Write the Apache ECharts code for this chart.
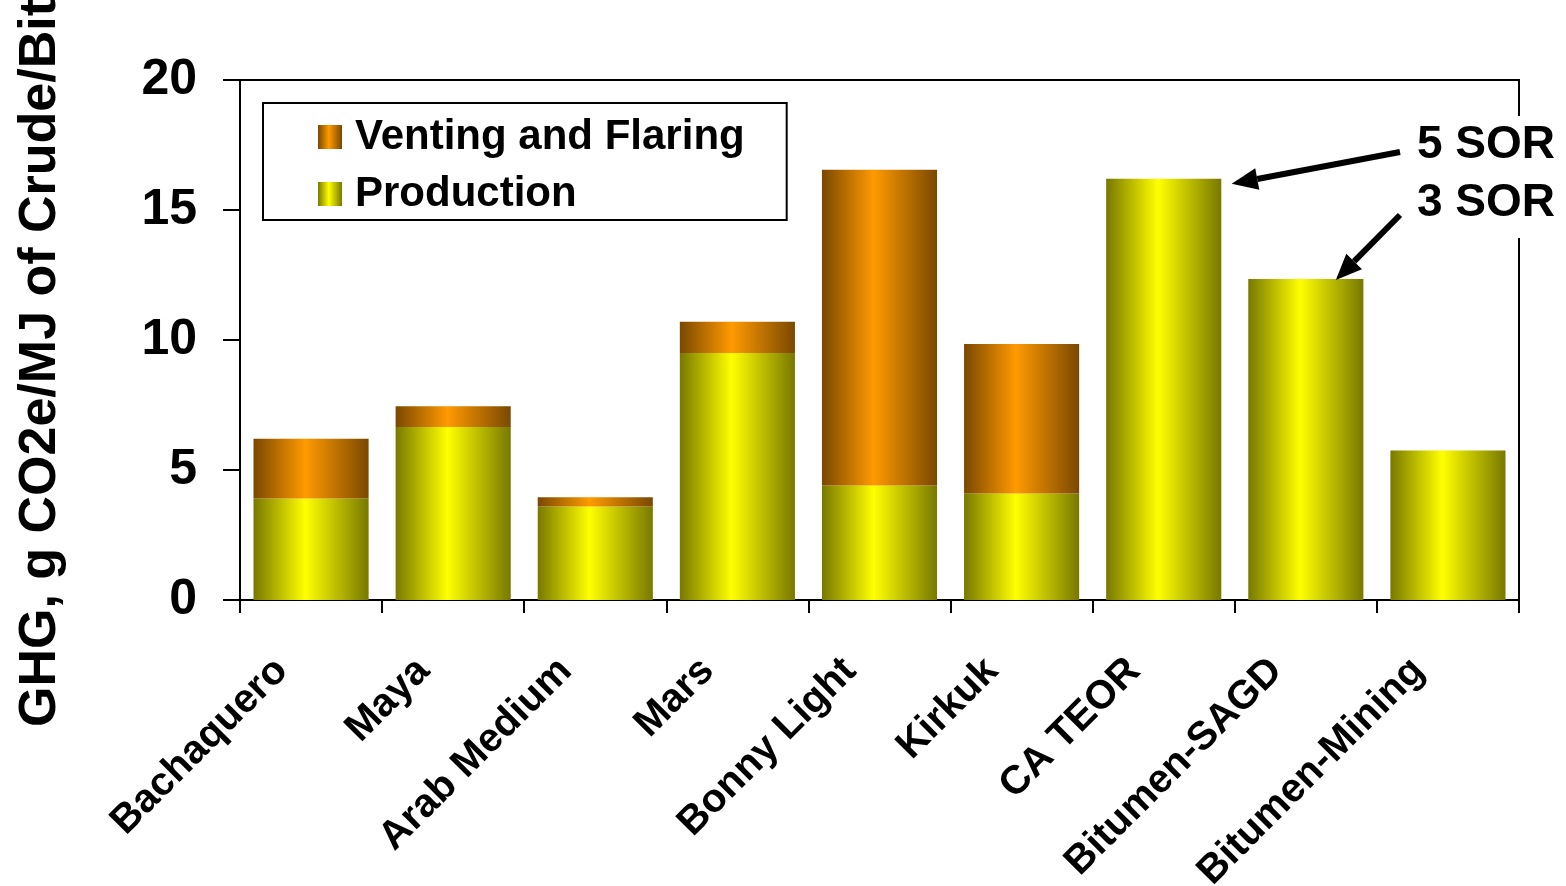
<!DOCTYPE html>
<html>
<head>
<meta charset="utf-8">
<title>GHG emissions by crude</title>
<script src="https://cdn.jsdelivr.net/npm/echarts@6/dist/echarts.min.js"></script>
<style>
  html, body { margin: 0; padding: 0; background: #fff; }
  #chart { width: 1566px; height: 886px; }
</style>
</head>
<body>
<div id="chart"></div>
<script>
// data
const categories = ['Bachaquero', 'Maya', 'Arab Medium', 'Mars', 'Bonny Light',
  'Kirkuk', 'CA TEOR', 'Bitumen-SAGD', 'Bitumen-Mining'];
const production = [3.9, 6.65, 3.6, 9.5, 4.4, 4.1, 16.2, 12.35, 5.75];
const venting = [2.3, 0.8, 0.35, 1.2, 12.15, 5.75, 0, 0, 0];
const yTicks = [0, 5, 10, 15, 20];
const seriesNames = ['Venting and Flaring', 'Production'];
const yTitle = 'GHG, g CO2e/MJ of Crude/Bit';
const notes = ['5 SOR', '3 SOR'];
const noteTargets = [6, 7]; // CA TEOR, Bitumen-SAGD

const FONT = "'Liberation Sans', Arial, Helvetica, sans-serif";
const chart = echarts.init(document.getElementById('chart'));

// cylinder-ish horizontal shading like the original
function barFill(edge, mid) {
  return new echarts.graphic.LinearGradient(0, 0, 1, 0, [
    { offset: 0, color: edge },
    { offset: 0.45, color: mid },
    { offset: 1, color: edge }
  ]);
}

chart.setOption({
  backgroundColor: '#fff',
  animation: false,
  grid: {
    left: 240, right: 47, top: 80, bottom: 286,
    outerBoundsMode: 'none',
    show: true,
    borderColor: '#000',
    borderWidth: 2
  },
  legend: {
    data: seriesNames,
    orient: 'vertical',
    left: 263,
    top: 103,
    padding: [13, 42, 5, 55],
    itemGap: 15,
    itemWidth: 24,
    itemHeight: 24,
    icon: 'rect',
    borderColor: '#000',
    borderWidth: 2,
    backgroundColor: '#fff',
    textStyle: {
      fontFamily: FONT, fontSize: 42, fontWeight: 'bold', color: '#000',
      padding: [0, 0, 0, 8]
    }
  },
  xAxis: {
    type: 'category',
    data: categories,
    axisLine: { lineStyle: { color: '#000', width: 2 } },
    axisTick: { show: true, length: 13, lineStyle: { color: '#000', width: 2 } },
    axisLabel: {
      interval: 0,
      rotate: 45,
      margin: 35,
      padding: [0, 42, 0, 0],
      color: '#000',
      fontFamily: FONT,
      fontSize: 40,
      fontWeight: 'bold'
    },
    splitLine: { show: false }
  },
  yAxis: {
    type: 'value',
    min: yTicks[0],
    max: yTicks[yTicks.length - 1],
    interval: 5,
    axisLine: { show: true, lineStyle: { color: '#000', width: 2 } },
    axisTick: { show: true, length: 17, lineStyle: { color: '#000', width: 2 } },
    axisLabel: {
      margin: 43,
      color: '#000',
      fontFamily: FONT,
      fontSize: 50,
      fontWeight: 'bold'
    },
    splitLine: { show: false }
  },
  series: [
    {
      name: 'Production',
      type: 'bar',
      stack: 'ghg',
      barWidth: '81%',
      data: production,
      itemStyle: { color: barFill('#787800', '#ffff00') }
    },
    {
      name: 'Venting and Flaring',
      type: 'bar',
      stack: 'ghg',
      barWidth: '81%',
      data: venting,
      itemStyle: { color: barFill('#7a4800', '#ff9a00') }
    }
  ]
});

// arrow made of a thick line and a filled head
function arrow(x1, y1, x2, y2) {
  const ang = Math.atan2(y2 - y1, x2 - x1);
  const len = 26, half = 11;
  const bx = x2 - len * Math.cos(ang), by = y2 - len * Math.sin(ang);
  const nx = -Math.sin(ang), ny = Math.cos(ang);
  return [
    { type: 'line', z: 100, shape: { x1: x1, y1: y1, x2: bx, y2: by },
      style: { stroke: '#000', lineWidth: 6 } },
    { type: 'polygon', z: 100,
      shape: { points: [[x2, y2], [bx + nx * half, by + ny * half], [bx - nx * half, by - ny * half]] },
      style: { fill: '#000' } }
  ];
}

const tip1 = chart.convertToPixel({ gridIndex: 0 }, [noteTargets[0], production[6]]);
const tip2 = chart.convertToPixel({ gridIndex: 0 }, [noteTargets[1], production[7]]);

const graphics = [
  { type: 'rect', z: 90, shape: { x: 1410, y: 116, width: 156, height: 122 }, style: { fill: '#fff' } },
  { type: 'text', z: 100, x: 1417, y: 145,
    style: { text: notes[0], font: 'bold 46px ' + FONT, fill: '#000', textAlign: 'left', textVerticalAlign: 'middle' } },
  { type: 'text', z: 100, x: 1417, y: 203,
    style: { text: notes[1], font: 'bold 46px ' + FONT, fill: '#000', textAlign: 'left', textVerticalAlign: 'middle' } },
  { type: 'text', z: 100, x: 41, y: 363, rotation: Math.PI / 2,
    style: { text: yTitle, font: 'bold 52px ' + FONT, fill: '#000', textAlign: 'center', textVerticalAlign: 'middle' } }
]
  .concat(arrow(1400, 152, tip1[0] + 68, tip1[1] + 5))
  .concat(arrow(1400, 215, tip2[0] + 30, tip2[1] + 1));

chart.setOption({ graphic: graphics });
</script>
</body>
</html>
